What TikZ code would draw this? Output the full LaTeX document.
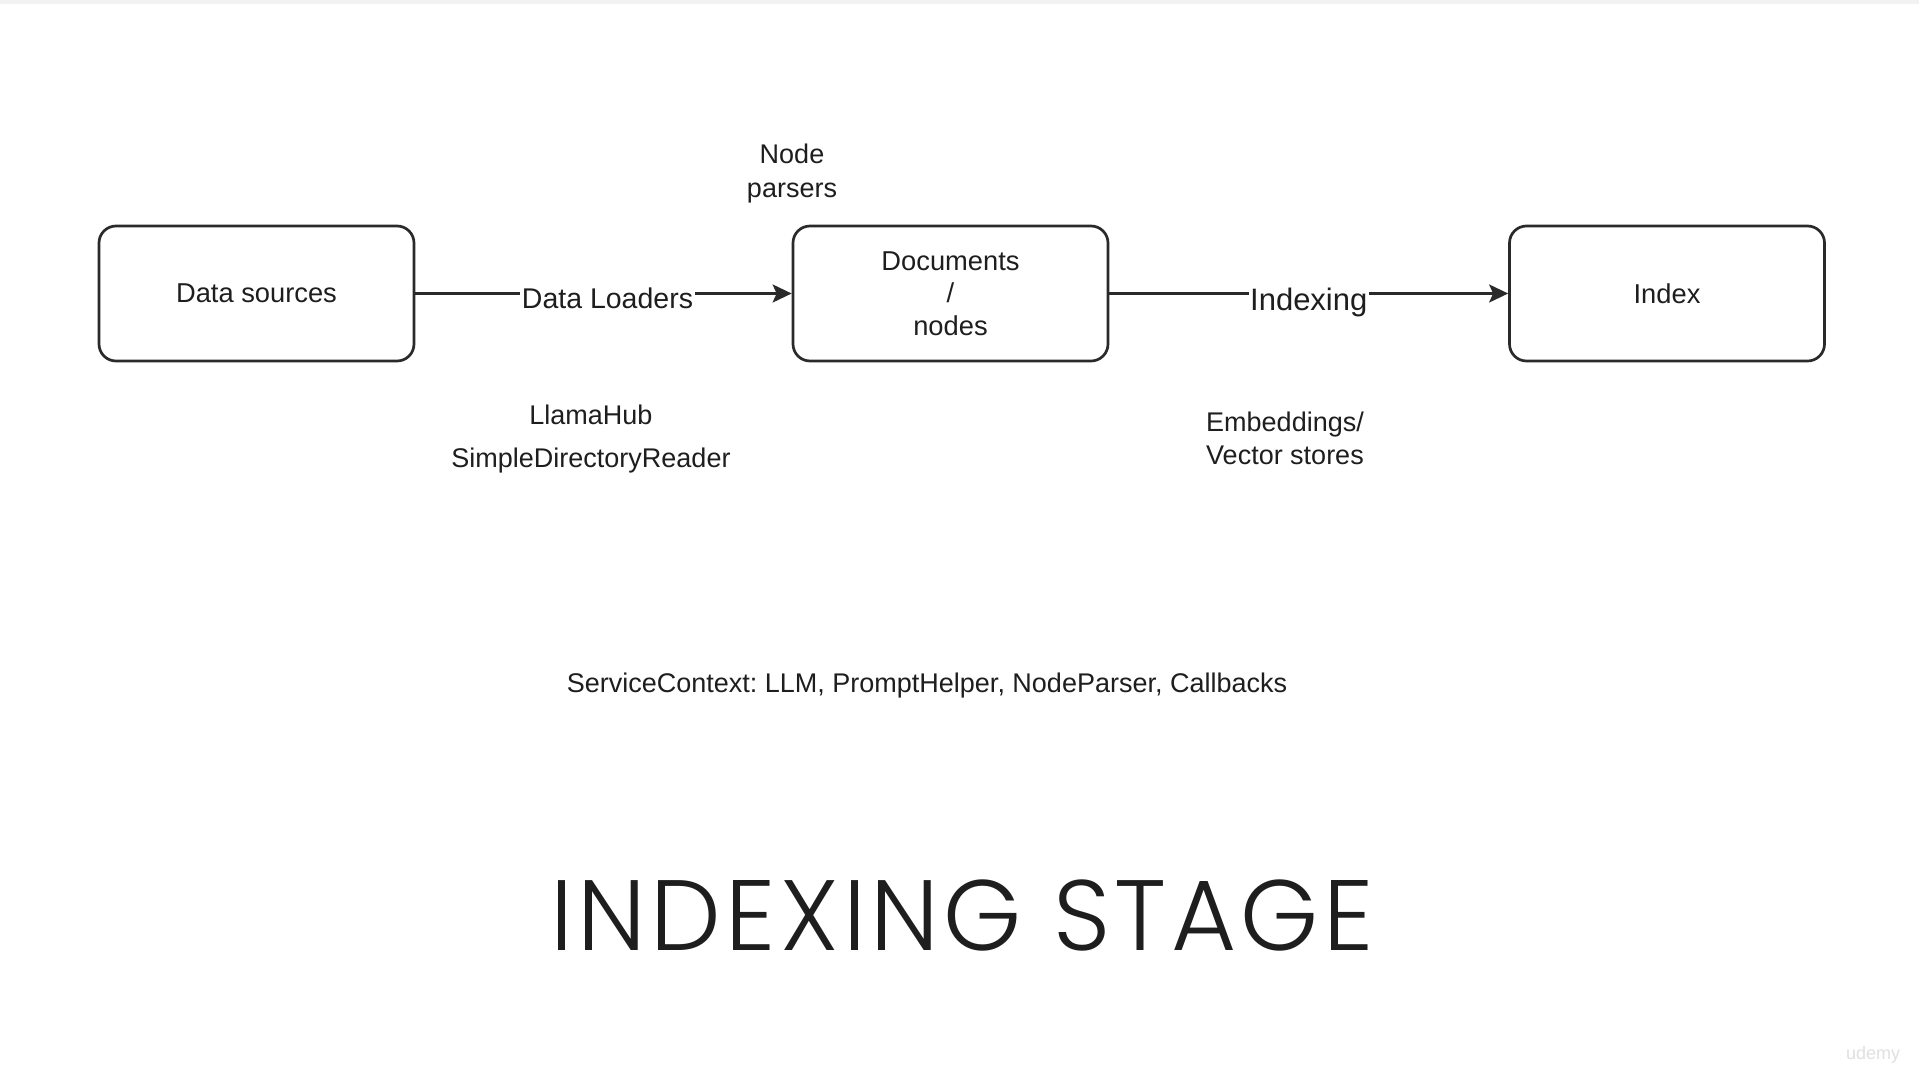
\documentclass[tikz,border=0pt]{standalone}
\usepackage{fontspec}
\setmainfont{Liberation Sans}
\newfontfamily\titlefont{Poppins Light}[LetterSpace=4.4]
\usetikzlibrary{arrows.meta}
\definecolor{ink}{HTML}{1E1E1E}
\definecolor{edge}{HTML}{2A2A2A}
\frenchspacing
\begin{document}
\begin{tikzpicture}[x=1bp,y=-1bp,
  box/.style={draw=edge, line width=2.7bp, rounded corners=17bp, minimum width=315bp, minimum height=135bp, align=center, font=\fontsize{27.3bp}{32.5bp}\selectfont, text=ink},
  conn/.style={draw=edge, line width=2.6bp, -{Stealth[length=19bp,width=18bp,inset=4bp]}},
  lbl/.style={font=\fontsize{27bp}{34bp}\selectfont, text=ink, align=center, inner sep=0pt},
  edgelbl/.style={fill=white, inner sep=1.5bp, text=ink},
  titlestyle/.style={font=\titlefont\fontsize{100bp}{110bp}\selectfont, text=ink, inner sep=0pt}]
\useasboundingbox (0,0) rectangle (1919,1078);
\fill[white] (0,0) rectangle (1919,1078);
\fill[black!5] (0,0) rectangle (1919,4);
\node[box] (src) at (256.5,293.5) {Data sources};
\node[box] (doc) at (950.5,293.5) {Documents\\/\\nodes};
\node[box] (idx) at (1667,293.5) {Index};
\draw[conn] (src) -- node[edgelbl, yshift=-5bp, xshift=4bp, font=\fontsize{28.5bp}{34bp}\selectfont]{Data Loaders} (doc);
\draw[conn] (doc) -- node[edgelbl, yshift=-9bp, pos=0.5, font=\fontsize{31bp}{36bp}\selectfont]{Indexing} (idx);
\node[lbl] (np) at (792,174) {Node\\parsers};
\node[lbl] (lh) at (591,415) {LlamaHub};
\node[lbl] (sdr) at (591,461) {SimpleDirectoryReader};
\node[lbl, align=left, font=\fontsize{27bp}{33bp}\selectfont] (emb) at (1285,438.5) {Embeddings/\\Vector stores};
\node[lbl] (sc) at (927,686) {ServiceContext: LLM, PromptHelper, NodeParser, Callbacks};
\node[titlestyle] (title) at (962,915) {INDEXING STAGE};
\node[font=\fontsize{18bp}{20bp}\selectfont, text=black!12, inner sep=0pt] (wm) at (1873,1055) {udemy};
\end{tikzpicture}
\end{document}
